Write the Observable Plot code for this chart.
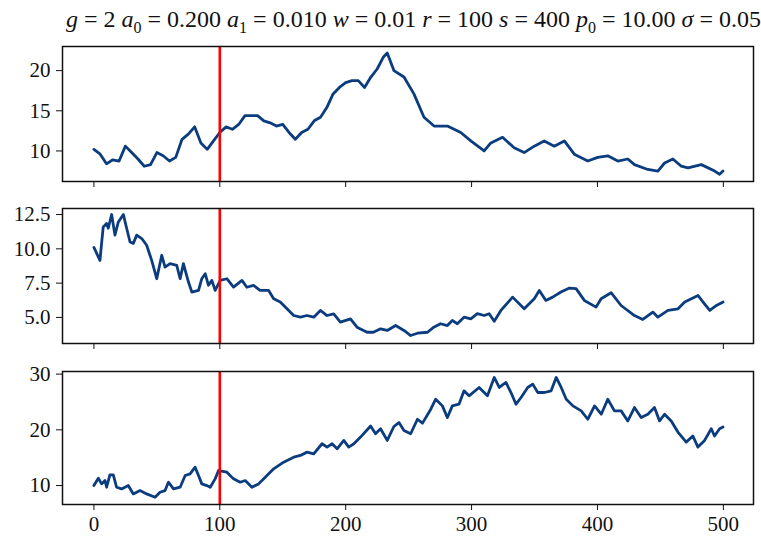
<!DOCTYPE html>
<html>
<head>
<meta charset="utf-8">
<script src="https://cdn.jsdelivr.net/npm/d3@7"></script>
<script src="https://cdn.jsdelivr.net/npm/@observablehq/plot@0.6"></script>
<style>
  html, body { margin: 0; padding: 0; background: #fff; }
  #wrap { position: relative; width: 761px; height: 536px; overflow: hidden; font-family: "Liberation Serif", "Times New Roman", serif; }
  #title { position: absolute; left: 66px; top: 5px; font-size: 24px; line-height: 28px; white-space: nowrap; color: #111; }
  #title sub { font-size: 16px; vertical-align: -6px; line-height: 0; }
  .panel { position: absolute; left: 0; }
</style>
</head>
<body>
<div id="wrap">
  <div id="title"><i>g</i> = 2 <i>a</i><sub>0</sub> = 0.200 <i>a</i><sub>1</sub> = 0.010 <i>w</i> = 0.01 <i>r</i> = 100 <i>s</i> = 400 <i>p</i><sub>0</sub> = 10.00 <i>σ</i> = 0.05</div>
</div>
<script>
// ---- data ----
const t1 = [0,5,10,15,20,25,30,35,40,45,50,55,60,65,70,75,80,85,90,95,100,105,110,115,120,125,130,135,140,145,150,155,160,165,170,175,180,185,190,195,200,205,210,215,220,225,230,233,238.3,246.3,254.2,262.2,270.2,280.8,291.4,299.4,310,315.3,324.6,333.8,341.8,349.8,357.7,365.7,373.7,381.6,392.3,400.2,408.2,416.1,424.1,429.4,440,448,453.3,459.9,466.6,471.9,482.5,493.1,497,499.7];
const v1 = [10.2,9.6,8.4,8.9,8.75,10.6,9.8,9.0,8.1,8.3,9.8,9.4,8.75,9.2,11.45,12.1,13.0,11.0,10.2,11.25,12.3,13.0,12.7,13.3,14.4,14.4,14.4,13.75,13.5,13.1,13.3,12.3,11.45,12.3,12.7,13.75,14.2,15.4,17.1,17.9,18.5,18.75,18.75,17.9,19.2,20.2,21.7,22.2,20.0,19.2,17.1,14.2,13.1,13.1,12.3,11.25,10.0,11.0,11.7,10.4,9.8,10.6,11.25,10.6,11.25,9.6,8.75,9.2,9.4,8.75,9.0,8.3,7.7,7.5,8.5,9.0,8.1,7.9,8.3,7.5,7.1,7.5];

const t2 = [0,4.8,6.1,7.4,10.1,11.4,14.1,16.7,19.4,23.4,26,28.7,31.3,34,38,41.9,45.9,49.9,53.9,56.5,60.5,65.8,68.5,71.1,75.1,77.8,83.1,85.7,88.4,91,93.7,96.3,100.3,105.6,110.9,117.6,121.5,126.8,132,138.8,142.8,148,153.4,158.7,164,169.3,174.6,179.9,185.2,190.5,195.8,203.8,209,217,222,227.7,233,239.7,246.3,251.6,257,265,270,275.3,280.8,284.7,288.7,294,299.4,304.6,310,314,318,323.3,332.6,341.8,349.8,353.8,359,364.4,371,377.7,383,389.6,398.9,402.9,410.8,418.8,429.4,436,444,448,456,464,469.3,479.9,483.9,489.2,494.5,499.8];
const v2 = [10.1,9.16,10.4,11.6,11.84,11.5,12.5,11.0,11.96,12.5,11.5,10.5,10.4,11.0,10.75,10.26,9.16,7.82,9.53,8.67,8.92,8.8,7.82,8.92,7.58,6.85,6.97,7.82,8.19,7.34,7.7,6.97,7.7,7.82,7.21,7.7,7.2,7.34,6.97,6.97,6.36,6.12,5.63,5.14,5.02,5.14,5.02,5.51,5.14,5.26,4.66,4.9,4.29,3.92,3.92,4.17,4.05,4.41,4.05,3.68,3.85,3.92,4.29,4.54,4.41,4.78,4.54,5.02,4.9,5.27,5.14,5.27,4.72,5.51,6.48,5.63,6.36,6.97,6.24,6.48,6.85,7.14,7.1,6.24,5.75,6.36,6.8,5.87,5.14,4.85,5.39,5.02,5.51,5.63,6.12,6.6,6.12,5.51,5.87,6.12];

const t3 = [0,3.5,6.1,8.8,10.1,12.7,15.4,18,22,27.3,31.3,36.6,41.9,48.6,52.5,56.5,59.2,63.2,68.5,72.5,76.4,80.4,83.1,85.7,89.7,92.4,96.3,99,105.6,110.9,116.2,120.2,125.5,130.8,136.1,142.8,150.7,158.7,164,169.3,174.6,181.2,185.2,189.2,193.2,198.5,202.4,206.5,211.8,219.8,223.7,227.7,233,238.3,242.3,246.3,251.6,257,261,267.6,271.5,276.8,280.8,284.7,290,294,298,306,312.6,318,322,327.3,331.3,335.3,339.3,344.6,348.6,352.6,357.9,363.2,367.2,371.2,375.2,380.5,387.1,392.3,397.7,403,408.2,413.5,418.8,424.1,429.4,434.7,440,445.3,449.3,453.3,458.6,463.9,470.5,475.8,479.8,485.1,490.4,493,497,499.7];
const v3 = [10.0,11.3,10.3,10.9,9.7,11.9,11.9,9.7,9.4,10.0,8.5,9.1,8.5,7.9,8.8,9.1,10.6,9.4,9.7,11.8,12.1,13.3,11.8,10.3,10.0,9.7,11.2,12.7,12.4,11.2,10.6,10.9,9.7,10.3,11.5,13.0,14.2,15.1,15.4,16.0,15.7,17.5,16.9,17.5,16.6,18.1,16.9,17.5,18.7,20.7,19.3,20.2,18.1,20.6,21.3,19.9,19.3,21.9,21.2,23.7,25.5,24.3,22.2,24.3,24.6,27.0,26.1,27.6,26.1,29.4,27.6,28.5,26.7,24.6,25.8,27.6,28.2,26.7,26.7,27.0,29.4,27.6,25.5,24.3,23.4,21.9,24.3,22.8,25.5,23.4,23.4,21.6,24.0,22.2,22.8,24.0,21.6,22.8,21.6,19.6,17.8,18.9,16.9,18.1,20.2,18.9,20.2,20.5];

const xTicks = [0, 100, 200, 300, 400, 500];
const yTicks1 = [10, 15, 20];
const yTicks2 = [5.0, 7.5, 10.0, 12.5];
const yTicks3 = [10, 20, 30];
const marker = [100];

// ---- drawing ----
const lineColor = "#0b3c7e";
const W = 761;
const xDomain = [-24.95, 523.95];

function panel({t, v, yDomain, yTicks, yFormat, top, height, mb, showX}) {
  const data = t.map((d, i) => ({t: d, v: v[i]}));
  const svg = Plot.plot({
    width: W,
    height,
    marginLeft: 62,
    marginRight: 8,
    marginTop: 6,
    marginBottom: mb,
    style: {fontFamily: "'Liberation Serif', 'Times New Roman', serif", fontSize: "21px", background: "transparent", color: "#111", overflow: "visible"},
    x: {domain: xDomain, ticks: xTicks, tickSize: 6, tickPadding: 6, label: null,
        tickFormat: showX ? (d => String(d)) : (() => "")},
    y: {domain: yDomain, ticks: yTicks, tickSize: 6, tickPadding: 6, label: null, tickFormat: yFormat},
    marks: [
      Plot.line(data, {x: "t", y: "v", stroke: lineColor, strokeWidth: 2.8, strokeLinejoin: "round"}),
      Plot.ruleX(marker, {stroke: "#ff0000", strokeWidth: 2.6}),
      Plot.frame({stroke: "#111", strokeWidth: 1.5})
    ]
  });
  svg.classList.add("panel");
  svg.style.top = top + "px";
  svg.style.position = "absolute";
  document.getElementById("wrap").appendChild(svg);
}

panel({t: t1, v: v1, yDomain: [6.2, 23.0], yTicks: yTicks1, yFormat: d => String(d), top: 40, height: 165, mb: 24, showX: false});
panel({t: t2, v: v2, yDomain: [3.1, 12.94], yTicks: yTicks2, yFormat: d3.format(".1f"), top: 202, height: 165, mb: 24, showX: false});
panel({t: t3, v: v3, yDomain: [6.6, 30.47], yTicks: yTicks3, yFormat: d => String(d), top: 365, height: 171, mb: 32, showX: true});
</script>
</body>
</html>
